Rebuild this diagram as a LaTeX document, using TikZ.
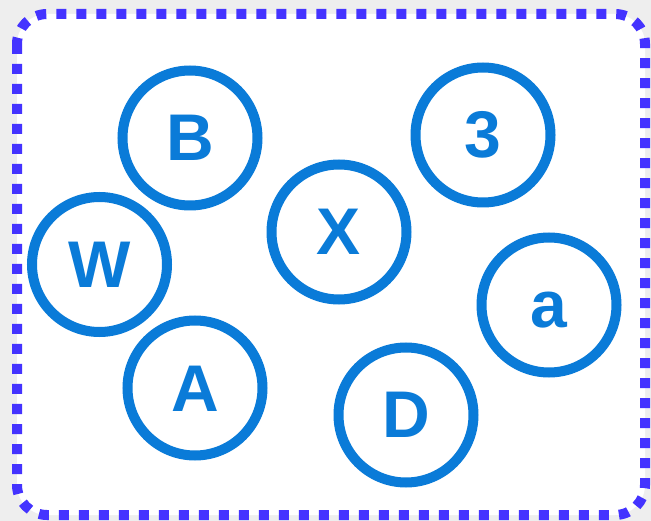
\documentclass[tikz,border=0pt]{standalone}
\usepackage{fontspec}
\setmainfont{Liberation Sans}
\definecolor{circblue}{HTML}{0A7BD8}
\definecolor{borderblue}{HTML}{4433FF}
\definecolor{outergray}{HTML}{EEEEEE}
\tikzset{
  ball/.style={circle, draw=circblue, line width=10pt, minimum size=135pt, inner sep=0pt,
    text=circblue, text height=46pt, text depth=0pt,
    font=\fontsize{66}{66}\selectfont\bfseries},
  frame/.style={draw=borderblue, line width=10pt, dash pattern=on 10pt off 10pt, fill=white, rounded corners=30pt}
}
\begin{document}
\begin{tikzpicture}[x=1pt,y=-1pt]
\fill[outergray] (0,0) rectangle (651,521);
\useasboundingbox (0,0) rectangle (651,521);
\draw[frame] (17,14) rectangle (645,515);
\node[ball] (B) at (190,138) {B};
\node[ball] (W) at (99.5,264.5) {W};
\node[ball] (A) at (195,388) {A};
\node[ball] (X) at (339,232) {X};
\node[ball] (3) at (483,135) {3};
\node[ball] (a) at (549,305) {a};
\node[ball] (D) at (406,415) {D};
\end{tikzpicture}
\end{document}
